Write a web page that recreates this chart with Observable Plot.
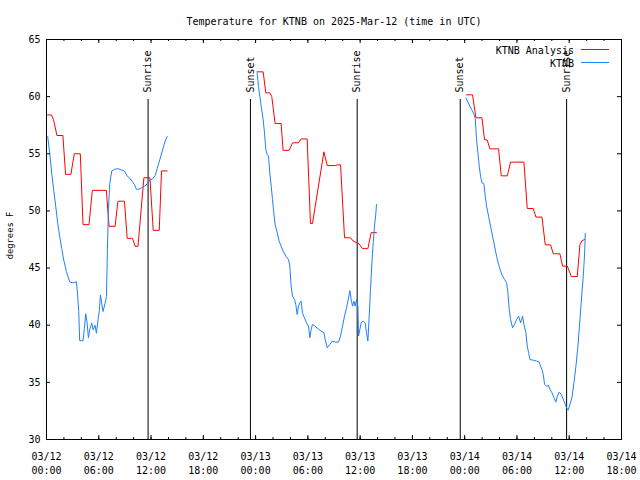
<!DOCTYPE html>
<html><head><meta charset="utf-8">
<script src="https://cdn.jsdelivr.net/npm/d3@7"></script>
<script src="https://cdn.jsdelivr.net/npm/@observablehq/plot@0.6"></script>
<style>
html,body{margin:0;padding:0;background:#fff;}
svg{display:block;}
</style></head><body><div id="chart"></div>
<script>
// ---------- data (hours since 2025-03-12 00:00 UTC, temperatures in °F) ----------
const titleText = "Temperature for KTNB on 2025-Mar-12 (time in UTC)";
const yLabelText = "degrees F";
const startUTC = "2025-03-12T00:00:00Z";
const endUTC = "2025-03-14T18:00:00Z";
const yTickValues = [30, 35, 40, 45, 50, 55, 60, 65];
const majorTickHours = [0, 6, 12, 18, 24, 30, 36, 42, 48, 54, 60, 66];
const minorTickHours = [0, 2, 4, 6, 8, 10, 12, 14, 16, 18, 20, 22, 24, 26, 28, 30, 32, 34, 36, 38, 40, 42, 44, 46, 48, 50, 52, 54, 56, 58, 60, 62, 64, 66];
const seriesNames = ["KTNB Analysis", "KTNB"];
const seriesColors = ["#ff0000", "#1e80ff"];
const eventHours = [11.66, 23.41, 35.66, 47.49, 59.70];
const eventLabels = ["Sunrise", "Sunset", "Sunrise", "Sunset", "Sunrise"];

// KTNB Analysis (red)
const analysisHours1 = [0.12,0.57,0.8,1.2,1.88,2.19,2.8,3.19,3.88,4.19,4.88,5.26,6.87,7.18,7.87,8.2,8.95,9.26,9.87,10.18,10.5,11.18,11.87,12.25,12.94,13.2,13.86];
const analysisTemps1 = [58.4,58.4,58.0,56.6,56.6,53.2,53.2,55.0,55.0,48.8,48.8,51.8,51.8,48.65,48.65,50.85,50.85,47.6,47.6,46.9,46.9,52.9,52.9,48.3,48.3,53.5,53.5];
const analysisHours2 = [24.18,24.87,25.17,25.63,25.86,26.24,26.93,27.16,27.85,28.24,28.92,29.23,29.92,30.3,30.53,31.84,32.22,33.14,33.4,33.75,34.21,34.9,35.2,35.66,35.89,36.28,36.89,37.27,37.88];
const analysisTemps2 = [62.17,62.17,60.33,60.33,60.0,57.65,57.65,55.3,55.3,55.96,55.96,56.3,56.3,48.9,48.9,55.17,53.97,53.97,54.03,54.03,47.65,47.65,47.36,47.2,47.1,46.7,46.7,48.1,48.1];
const analysisHours3 = [48.21,48.9,49.29,49.98,50.28,50.59,50.89,51.89,52.2,52.89,53.27,54.8,55.18,55.87,56.18,56.87,57.25,57.86,58.17,58.93,59.24,59.78,60.24,60.92,61.23,61.46,61.77];
const analysisTemps3 = [60.16,60.16,58.15,58.15,56.25,56.2,55.43,55.43,53.07,53.07,54.27,54.27,50.21,50.21,49.46,49.46,47.03,47.03,46.25,46.25,45.17,45.17,44.26,44.26,47.06,47.4,47.5];

// KTNB observations (blue)
const obsHours1 = [0.14,0.37,0.6,0.83,1.06,1.29,1.52,1.75,1.98,2.28,2.66,3.05,3.43,3.55,3.70,3.81,4.2,4.35,4.5,4.66,4.81,4.96,5.19,5.35,5.57,5.73,5.92,6.07,6.19,6.34,6.49,6.72,6.88,6.99,7.11,7.26,7.49,7.79,8.18,8.56,8.94,9.25,9.56,9.87,10.09,10.32,10.63,10.93,11.32,11.55,11.86,12.16,12.47,12.7,13.0,13.38,13.69,13.85];
const obsTemps1 = [56.5,55.04,53.3,51.8,50.4,48.9,47.75,46.7,45.7,44.7,43.8,43.7,43.8,42.9,41.2,38.65,38.65,39.7,41.0,40.2,38.9,39.6,40.2,39.6,40.0,39.3,40.5,41.3,42.65,41.9,41.2,41.9,42.5,46.6,50.1,52.4,53.5,53.64,53.7,53.6,53.5,53.06,52.86,52.56,52.3,51.9,51.9,52.04,52.2,52.36,52.7,52.8,53.1,53.7,54.46,55.5,56.27,56.5];
const obsHours2 = [24.18,24.33,24.48,24.64,24.87,25.02,25.17,25.33,25.48,25.63,25.79,25.94,26.09,26.24,26.48,26.70,26.93,27.16,27.47,27.78,27.93,28.08,28.24,28.47,28.62,28.77,28.92,29.08,29.23,29.38,29.61,29.84,30.07,30.23,30.38,30.53,30.84,31.15,31.53,31.84,31.99,32.22,32.52,32.83,33.14,33.52,33.75,33.98,34.21,34.44,34.67,34.82,34.97,35.13,35.28,35.43,35.59,35.74,35.82,35.97,36.12,36.35,36.58,36.73,36.89,37.04,37.19,37.35,37.5,37.65,37.81,37.88];
const obsTemps2 = [62.08,60.9,60.04,59.17,58.0,56.83,55.38,54.94,54.8,53.33,52.17,51.0,49.83,48.8,48.1,47.36,46.92,46.48,46.04,45.75,45.17,43.42,42.55,42.25,41.8,40.94,41.67,41.96,42.1,41.08,40.65,40.21,39.92,38.9,39.63,40.07,39.92,39.69,39.48,39.34,38.75,38.02,38.32,38.61,38.52,38.52,39.05,39.92,40.8,41.52,42.4,43.04,42.25,41.67,42.1,41.67,42.25,41.67,39.05,39.63,40.21,40.36,40.21,39.34,38.61,40.8,43.13,45.46,47.21,48.67,49.83,50.56];
const obsHours3 = [48.14,48.37,48.6,48.83,49.06,49.21,49.29,49.36,49.52,49.67,49.82,49.98,50.2,50.36,50.51,50.74,50.97,51.2,51.43,51.66,51.89,52.12,52.35,52.58,52.81,52.96,53.11,53.27,53.5,53.73,53.96,54.19,54.42,54.65,54.8,55.03,55.18,55.34,55.49,55.87,56.25,56.56,56.71,56.87,57.02,57.17,57.4,57.63,57.79,58.02,58.25,58.47,58.63,58.86,59.09,59.32,59.55,59.7,59.89,60.08,60.31,60.54,60.77,61.0,61.23,61.46,61.61,61.77,61.84];
const obsTemps3 = [59.87,59.52,59.17,58.82,58.47,58.06,57.13,56.25,55.08,53.92,53.04,52.46,52.4,51.29,50.42,49.54,48.67,47.79,46.92,46.04,45.31,44.73,44.29,44.0,43.71,42.84,41.38,40.5,39.77,40.07,40.5,40.79,40.21,40.79,40.07,39.34,38.17,37.59,37.0,36.94,36.86,36.77,36.42,36.13,35.69,34.82,34.67,34.73,34.38,34.09,33.65,33.27,33.8,34.15,33.94,33.5,33.07,32.77,32.57,33.07,33.65,34.96,36.42,38.17,40.5,42.84,44.29,46.33,48.03];

// ---------- build tables ----------
const t0 = Date.parse(startUTC);
const toDate = h => new Date(t0 + h * 3600e3);
function rows(segments) {
  const out = [];
  segments.forEach(([H, T], s) => H.forEach((h, i) => out.push({t: toDate(h), v: T[i], s})));
  return out;
}
const analysis = rows([[analysisHours1, analysisTemps1], [analysisHours2, analysisTemps2], [analysisHours3, analysisTemps3]]);
const obs = rows([[obsHours1, obsTemps1], [obsHours2, obsTemps2], [obsHours3, obsTemps3]]);
const events = eventHours.map((h, i) => ({t: toDate(h), label: eventLabels[i]}));
const majorTicks = majorTickHours.map(toDate);
const minorTicks = minorTickHours.map(toDate);
const fmt = d3.utcFormat("%m/%d\n%H:%M");

// ---------- layout ----------
const W = 640, H = 480, mL = 46, mR = 19, mT = 39, mB = 41;
const pw = W - mL - mR, ph = H - mT - mB;
const FONT = "'DejaVu Sans Mono', monospace";

const chart = Plot.plot({
  width: W, height: H,
  marginLeft: mL, marginRight: mR, marginTop: mT, marginBottom: mB,
  style: {fontFamily: FONT, fontSize: "10px", color: "#000", background: "#fff", overflow: "visible"},
  x: {type: "utc", domain: [new Date(startUTC), new Date(endUTC)], axis: null},
  y: {domain: [30, 65], axis: null},
  marks: [
    Plot.ruleX(events, {x: "t", stroke: "#000", insetTop: 60}),
    Plot.text(events, {x: "t", text: "label", frameAnchor: "top", dy: 53, rotate: -90, textAnchor: "start", lineAnchor: "middle", fill: "#000"}),
    Plot.line(analysis, {x: "t", y: "v", z: "s", stroke: seriesColors[0], strokeWidth: 1, curve: "linear"}),
    Plot.line(obs, {x: "t", y: "v", z: "s", stroke: seriesColors[1], strokeWidth: 1, curve: "linear"}),
    // inward ticks, bottom and top
    Plot.ruleX(minorTicks, {stroke: "#000", insetTop: ph - 2}),
    Plot.ruleX(minorTicks, {stroke: "#000", insetBottom: ph - 2}),
    Plot.ruleX(majorTicks, {stroke: "#000", insetTop: ph - 4}),
    Plot.ruleX(majorTicks, {stroke: "#000", insetBottom: ph - 4}),
    // inward ticks, left and right
    Plot.ruleY(yTickValues, {stroke: "#000", insetRight: pw - 4}),
    Plot.ruleY(yTickValues, {stroke: "#000", insetLeft: pw - 4}),
    Plot.frame({stroke: "#000"}),
    // tick labels
    Plot.text(majorTicks, {x: d => d, text: d => fmt(d), frameAnchor: "bottom", dy: 11, lineAnchor: "top", lineHeight: 1.4, fill: "#000"}),
    Plot.text(yTickValues, {y: d => d, text: d => String(d), frameAnchor: "left", dx: -6, textAnchor: "end", lineAnchor: "middle", fill: "#000"}),
    // title and axis label
    Plot.text([titleText], {frameAnchor: "top", dy: -15, lineAnchor: "bottom", fill: "#000"}),
    Plot.text([yLabelText], {frameAnchor: "left", dx: -36.5, dy: -4, rotate: -90, textAnchor: "middle", lineAnchor: "middle", fontSize: 8.8, fill: "#000"})
  ]
});

// legend (top right, inside the frame)
const svg = d3.select(chart);
const lg = svg.append("g").attr("font-family", FONT).attr("font-size", 10);
const legendRows = [{y: 49.5, base: 54}, {y: 62.5, base: 67}];
seriesNames.forEach((name, i) => {
  lg.append("text").attr("x", 574).attr("y", legendRows[i].base).attr("text-anchor", "end").attr("fill", "#000").text(name);
  lg.append("line").attr("x1", 581).attr("x2", 609).attr("y1", legendRows[i].y).attr("y2", legendRows[i].y)
    .attr("stroke", seriesColors[i]).attr("stroke-width", 1);
});

document.getElementById("chart").appendChild(chart);
</script>
</body></html>
